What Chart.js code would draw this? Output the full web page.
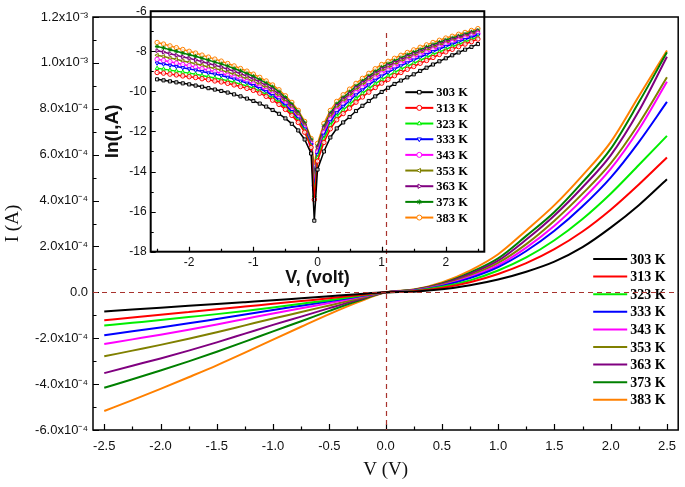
<!DOCTYPE html>
<html><head><meta charset="utf-8">
<script src="https://cdn.jsdelivr.net/npm/chart.js@4.4.1/dist/chart.umd.min.js"></script>
<style>
html,body{margin:0;padding:0;background:#fff;}
#wrap{position:relative;width:685px;height:487px;background:#fff;}
canvas{position:absolute;left:0;top:0;}
#inset{pointer-events:none;}
</style></head><body>
<div id="wrap"><canvas id="main" width="685" height="487"></canvas><canvas id="inset" width="685" height="487"></canvas></div>
<script>
// ---------- DATA ----------
const temps = ['303 K','313 K','323 K','333 K','343 K','353 K','363 K','373 K','383 K'];

// main chart: voltage (V) and current in units of 1e-4 A
const mainVolts = [-2.5,-2.25,-2.0,-1.75,-1.5,-1.25,-1.0,-0.75,-0.5,-0.25,0,0.25,0.5,0.75,1.0,1.25,1.5,1.75,2.0,2.25,2.5];
const I303 = [-0.83,-0.75,-0.67,-0.59,-0.51,-0.43,-0.35,-0.26,-0.17,-0.08,0,0.03,0.13,0.31,0.56,0.90,1.34,1.97,2.82,3.80,4.93];
const I313 = [-1.22,-1.10,-0.98,-0.86,-0.74,-0.62,-0.50,-0.38,-0.26,-0.13,0,0.05,0.19,0.44,0.80,1.27,1.88,2.65,3.60,4.70,5.88];
const I323 = [-1.45,-1.33,-1.21,-1.08,-0.95,-0.81,-0.66,-0.50,-0.34,-0.17,0,0.06,0.24,0.52,0.95,1.52,2.27,3.20,4.30,5.55,6.82];
const I333 = [-1.87,-1.70,-1.53,-1.35,-1.16,-0.97,-0.77,-0.58,-0.39,-0.19,0,0.07,0.28,0.62,1.10,1.80,2.68,3.75,5.00,6.55,8.30];
const I343 = [-2.25,-2.05,-1.85,-1.63,-1.40,-1.16,-0.92,-0.69,-0.47,-0.23,0,0.08,0.30,0.67,1.18,1.95,2.90,4.05,5.38,7.10,9.18];
const I353 = [-2.79,-2.54,-2.29,-2.02,-1.74,-1.44,-1.14,-0.86,-0.57,-0.28,0,0.09,0.33,0.73,1.28,2.10,3.12,4.30,5.62,7.35,9.37];
const I363 = [-3.52,-3.20,-2.88,-2.54,-2.18,-1.80,-1.42,-1.06,-0.69,-0.33,0,0.10,0.36,0.80,1.38,2.30,3.35,4.58,5.97,7.90,10.27];
const I373 = [-4.16,-3.79,-3.41,-3.01,-2.59,-2.15,-1.70,-1.26,-0.81,-0.38,0,0.11,0.39,0.86,1.48,2.46,3.50,4.80,6.25,8.28,10.46];
const I383 = [-5.17,-4.70,-4.21,-3.70,-3.18,-2.63,-2.06,-1.50,-0.95,-0.44,0,0.12,0.43,0.95,1.66,2.70,3.80,5.10,6.55,8.55,10.54];

// inset: ln(I) versus V
const insetVolts = [-2.5,-2.4,-2.3,-2.2,-2.1,-2.0,-1.9,-1.8,-1.7,-1.6,-1.5,-1.4,-1.3,-1.2,-1.1,-1.0,-0.9,-0.8,-0.7,-0.6,-0.5,-0.4,-0.3,-0.2,-0.1,-0.05,0,0.1,0.2,0.3,0.4,0.5,0.6,0.7,0.8,0.9,1.0,1.1,1.2,1.3,1.4,1.5,1.6,1.7,1.8,1.9,2.0,2.1,2.2,2.3,2.4,2.5];
const ln303 = [-9.40,-9.45,-9.50,-9.55,-9.60,-9.65,-9.71,-9.77,-9.84,-9.91,-9.98,-10.06,-10.15,-10.25,-10.36,-10.48,-10.61,-10.76,-10.93,-11.12,-11.35,-11.62,-11.95,-12.40,-13.10,-16.45,
  -13.90,-13.00,-12.30,-11.85,-11.55,-11.28,-10.98,-10.72,-10.48,-10.25,-10.03,-9.82,-9.63,-9.46,-9.30,-9.15,-8.98,-8.82,-8.66,-8.50,-8.35,-8.20,-8.06,-7.92,-7.78,-7.64];
const ln313 = [-9.06,-9.09,-9.14,-9.18,-9.23,-9.27,-9.31,-9.37,-9.42,-9.48,-9.53,-9.60,-9.68,-9.76,-9.85,-9.95,-10.09,-10.25,-10.44,-10.65,-10.90,-11.20,-11.55,-12.04,-12.80,-15.40,
  -13.48,-12.55,-11.87,-11.42,-11.11,-10.84,-10.54,-10.28,-10.04,-9.81,-9.59,-9.40,-9.22,-9.06,-8.90,-8.76,-8.60,-8.46,-8.31,-8.16,-8.03,-7.90,-7.77,-7.64,-7.52,-7.39];
const ln323 = [-8.85,-8.89,-8.94,-8.99,-9.04,-9.09,-9.14,-9.21,-9.27,-9.33,-9.39,-9.47,-9.55,-9.64,-9.73,-9.84,-9.99,-10.15,-10.33,-10.55,-10.81,-11.11,-11.47,-11.97,-12.74,-15.20,
  -13.32,-12.37,-11.69,-11.24,-10.93,-10.65,-10.36,-10.10,-9.86,-9.63,-9.41,-9.23,-9.05,-8.89,-8.74,-8.60,-8.45,-8.31,-8.16,-8.03,-7.90,-7.77,-7.65,-7.53,-7.41,-7.29];
const ln333 = [-8.59,-8.64,-8.70,-8.76,-8.82,-8.88,-8.94,-9.01,-9.08,-9.14,-9.21,-9.30,-9.39,-9.49,-9.59,-9.71,-9.86,-10.02,-10.21,-10.43,-10.70,-11.01,-11.38,-11.88,-12.67,-14.95,
  -13.15,-12.19,-11.52,-11.07,-10.75,-10.47,-10.18,-9.93,-9.68,-9.45,-9.24,-9.05,-8.89,-8.73,-8.58,-8.44,-8.30,-8.16,-8.02,-7.89,-7.76,-7.65,-7.53,-7.42,-7.30,-7.19];
const ln343 = [-8.40,-8.46,-8.52,-8.59,-8.66,-8.72,-8.79,-8.87,-8.94,-9.02,-9.10,-9.19,-9.29,-9.40,-9.50,-9.63,-9.78,-9.95,-10.14,-10.36,-10.63,-10.94,-11.32,-11.83,-12.62,-14.70,
  -13.03,-12.06,-11.40,-10.95,-10.63,-10.35,-10.06,-9.80,-9.56,-9.33,-9.11,-8.94,-8.77,-8.62,-8.47,-8.33,-8.19,-8.06,-7.92,-7.80,-7.67,-7.56,-7.45,-7.34,-7.23,-7.12];
const ln353 = [-8.20,-8.26,-8.33,-8.40,-8.48,-8.55,-8.62,-8.70,-8.78,-8.86,-8.94,-9.05,-9.15,-9.26,-9.37,-9.50,-9.65,-9.82,-10.02,-10.24,-10.52,-10.84,-11.22,-11.74,-12.55,-14.50,
  -12.93,-11.95,-11.29,-10.84,-10.51,-10.24,-9.94,-9.69,-9.44,-9.21,-9.00,-8.83,-8.67,-8.51,-8.37,-8.23,-8.09,-7.96,-7.83,-7.71,-7.59,-7.49,-7.38,-7.27,-7.16,-7.06];
const ln363 = [-7.97,-8.04,-8.12,-8.20,-8.28,-8.35,-8.43,-8.52,-8.61,-8.70,-8.79,-8.90,-9.00,-9.12,-9.24,-9.38,-9.53,-9.71,-9.90,-10.14,-10.42,-10.74,-11.13,-11.66,-12.48,-14.40,
  -12.82,-11.84,-11.18,-10.73,-10.40,-10.13,-9.83,-9.58,-9.33,-9.10,-8.89,-8.72,-8.57,-8.41,-8.27,-8.14,-8.00,-7.87,-7.75,-7.63,-7.51,-7.41,-7.30,-7.21,-7.10,-7.00];
const ln373 = [-7.76,-7.83,-7.92,-8.00,-8.09,-8.17,-8.25,-8.35,-8.44,-8.54,-8.63,-8.74,-8.86,-8.98,-9.11,-9.25,-9.41,-9.59,-9.78,-10.02,-10.31,-10.64,-11.03,-11.57,-12.41,-14.30,
  -12.73,-11.74,-11.08,-10.63,-10.31,-10.03,-9.74,-9.49,-9.24,-9.01,-8.80,-8.63,-8.48,-8.33,-8.18,-8.05,-7.92,-7.79,-7.67,-7.55,-7.44,-7.34,-7.24,-7.15,-7.04,-6.95];
const ln383 = [-7.56,-7.64,-7.73,-7.82,-7.91,-8.00,-8.09,-8.19,-8.29,-8.39,-8.49,-8.61,-8.73,-8.86,-8.99,-9.14,-9.30,-9.48,-9.68,-9.92,-10.22,-10.55,-10.95,-11.50,-12.35,-13.75,
  -12.60,-11.60,-10.95,-10.50,-10.17,-9.89,-9.60,-9.35,-9.10,-8.87,-8.66,-8.50,-8.35,-8.20,-8.06,-7.93,-7.80,-7.68,-7.56,-7.45,-7.34,-7.25,-7.15,-7.06,-6.96,-6.87];

// tick values and labels
const mainXTicks = [-2.5,-2.0,-1.5,-1.0,-0.5,0,0.5,1.0,1.5,2.0,2.5];
const mainXLabels = ['-2.5','-2.0','-1.5','-1.0','-0.5','0.0','0.5','1.0','1.5','2.0','2.5'];
const mainXMinor = [-2.25,-1.75,-1.25,-0.75,-0.25,0.25,0.75,1.25,1.75,2.25];
const mainYTicks = [-6e-4,-4e-4,-2e-4,0,2e-4,4e-4,6e-4,8e-4,1.0e-3,1.2e-3];
const mainYLabels = ['-6.0x10\u207B\u2074','-4.0x10\u207B\u2074','-2.0x10\u207B\u2074','0.0','2.0x10\u207B\u2074','4.0x10\u207B\u2074','6.0x10\u207B\u2074','8.0x10\u207B\u2074','1.0x10\u207B\u00B3','1.2x10\u207B\u00B3'];
const mainYMinor = [-5e-4,-3e-4,-1e-4,1e-4,3e-4,5e-4,7e-4,9e-4,1.1e-3];
const insetXTicks = [-2,-1,0,1,2];
const insetXLabels = ['-2','-1','0','1','2'];
const insetXMinor = [-2.5,-1.5,-0.5,0.5,1.5,2.5];
const insetYTicks = [-18,-16,-14,-12,-10,-8,-6];
const insetYLabels = ['-18','-16','-14','-12','-10','-8','-6'];
const insetYMinor = [-17,-15,-13,-11,-9,-7];

// ---------- STYLE ----------
const colors = ['#000000','#ff0000','#00ee00','#0000ff','#ff00ff','#808000','#800080','#008000','#ff8000'];
const markerStyles = ['rect','circle','triangle','triangle','circle','triangle','triangle','star','circle'];
const markerRot = [0,0,0,180,0,-90,90,0,0];
const dashColor = '#a8322d';

Chart.defaults.font.family = "'Liberation Sans', Arial, sans-serif";
Chart.defaults.color = '#111';

function drawInwardTicks(chart, xMaj, xMin, yMaj, yMin, majLen, minLen, lw) {
  const {ctx, chartArea: a, scales: {x, y}} = chart;
  ctx.save();
  ctx.strokeStyle = '#000'; ctx.lineWidth = lw;
  ctx.beginPath();
  xMaj.forEach(v => { const p = Math.round(x.getPixelForValue(v)) + 0.5; ctx.moveTo(p, a.bottom); ctx.lineTo(p, a.bottom - majLen); });
  xMin.forEach(v => { const p = Math.round(x.getPixelForValue(v)) + 0.5; ctx.moveTo(p, a.bottom); ctx.lineTo(p, a.bottom - minLen); });
  yMaj.forEach(v => { const p = Math.round(y.getPixelForValue(v)) + 0.5; ctx.moveTo(a.left, p); ctx.lineTo(a.left + majLen, p); });
  yMin.forEach(v => { const p = Math.round(y.getPixelForValue(v)) + 0.5; ctx.moveTo(a.left, p); ctx.lineTo(a.left + minLen, p); });
  ctx.stroke();
  ctx.restore();
}

const mainDeco = {
  id: 'mainDeco',
  afterDraw(chart) {
    const {ctx, chartArea: a, scales: {x, y}} = chart;
    ctx.save();
    ctx.strokeStyle = '#000'; ctx.lineWidth = 1.5;
    ctx.strokeRect(a.left, a.top, a.right - a.left, a.bottom - a.top);
    ctx.restore();
    drawInwardTicks(chart, mainXTicks, mainXMinor, mainYTicks, mainYMinor, 6, 3.5, 1.2);
    // legend
    ctx.save();
    const lx = a.right - 85, ly = a.top + 242, dy = 17.6;
    ctx.font = "bold 14px 'Liberation Serif', 'Times New Roman', serif";
    ctx.textBaseline = 'middle'; ctx.textAlign = 'left';
    chart.data.datasets.forEach((ds, i) => {
      const yy = ly + i * dy;
      ctx.strokeStyle = ds.borderColor; ctx.lineWidth = 2;
      ctx.beginPath(); ctx.moveTo(lx, yy); ctx.lineTo(lx + 34, yy); ctx.stroke();
      ctx.fillStyle = '#000';
      ctx.fillText(ds.label, lx + 37, yy + 1);
    });
    ctx.restore();
    // dashed reference lines
    ctx.save();
    ctx.strokeStyle = dashColor; ctx.lineWidth = 1.2; ctx.setLineDash([5, 4]);
    const y0 = Math.round(y.getPixelForValue(0)) + 0.5;
    ctx.beginPath(); ctx.moveTo(a.left, y0); ctx.lineTo(a.right, y0); ctx.stroke();
    const x0 = Math.round(x.getPixelForValue(0)) + 0.5;
    ctx.beginPath(); ctx.moveTo(x0, y.getPixelForValue(1.13e-3)); ctx.lineTo(x0, a.bottom); ctx.stroke();
    ctx.restore();
  }
};

const mainSeries = [I303, I313, I323, I333, I343, I353, I363, I373, I383];
new Chart(document.getElementById('main'), {
  type: 'line',
  data: {
    datasets: mainSeries.map((arr, k) => ({
      label: temps[k],
      data: mainVolts.map((v, i) => ({x: v, y: arr[i] * 1e-4})),
      borderColor: colors[k], borderWidth: 2, pointRadius: 0,
      cubicInterpolationMode: 'monotone', fill: false
    }))
  },
  options: {
    responsive: false, animation: false, devicePixelRatio: 1,
    layout: {padding: {top: 17, right: 1, left: 0, bottom: 0}},
    plugins: {legend: {display: false}, tooltip: {enabled: false}},
    scales: {
      x: {
        type: 'linear', min: -2.6, max: 2.6,
        grid: {display: false, drawTicks: false}, border: {display: false},
        afterBuildTicks: s => { s.ticks = mainXTicks.map(v => ({value: v})); },
        afterFit: s => { s.height = 57; },
        ticks: {padding: 9, font: {size: 13}, maxRotation: 0, autoSkip: false,
                callback: (v, i) => mainXLabels[i]},
        title: {display: true, text: 'V (V)', color: '#111',
                font: {family: "'Liberation Serif', 'Times New Roman', serif", size: 19},
                padding: {top: 0, bottom: 6}}
      },
      y: {
        type: 'linear', min: -6e-4, max: 1.2e-3,
        grid: {display: false, drawTicks: false}, border: {display: false},
        afterBuildTicks: s => { s.ticks = mainYTicks.map(v => ({value: v})); },
        afterFit: s => { s.width = 93; },
        ticks: {padding: 5, font: {size: 13}, autoSkip: false,
                callback: (v, i) => mainYLabels[i]},
        title: {display: true, text: 'I (A)', color: '#111',
                font: {family: "'Liberation Serif', 'Times New Roman', serif", size: 19},
                padding: {top: 2, bottom: 0}}
      }
    }
  },
  plugins: [mainDeco]
});

// ---------- INSET ----------
const insetDeco = {
  id: 'insetDeco',
  afterDraw(chart) {
    const {ctx, chartArea: a} = chart;
    ctx.save();
    ctx.strokeStyle = '#000'; ctx.lineWidth = 2;
    ctx.strokeRect(a.left, a.top, a.right - a.left, a.bottom - a.top);
    ctx.restore();
    drawInwardTicks(chart, insetXTicks, insetXMinor, insetYTicks, insetYMinor, 5, 3, 1.2);
    // legend
    ctx.save();
    const lx = a.right - 79, ly = a.top + 81, dy = 15.67;
    ctx.font = "bold 12.5px 'Liberation Serif', 'Times New Roman', serif";
    ctx.textBaseline = 'middle'; ctx.textAlign = 'left';
    chart.data.datasets.forEach((ds, i) => {
      const yy = ly + i * dy;
      ctx.strokeStyle = ds.borderColor; ctx.lineWidth = 2;
      ctx.beginPath(); ctx.moveTo(lx, yy); ctx.lineTo(lx + 28, yy); ctx.stroke();
      ctx.fillStyle = '#fff'; ctx.strokeStyle = ds.borderColor; ctx.lineWidth = 1;
      Chart.helpers.drawPoint(ctx, {pointStyle: markerStyles[i], rotation: markerRot[i], radius: 2.5, borderWidth: 1}, lx + 14, yy);
      ctx.fillStyle = '#000';
      ctx.fillText(ds.label, lx + 31, yy + 1);
    });
    ctx.restore();
  }
};

const insetSeries = [ln303, ln313, ln323, ln333, ln343, ln353, ln363, ln373, ln383];
new Chart(document.getElementById('inset'), {
  type: 'line',
  data: {
    datasets: insetSeries.map((arr, k) => ({
      label: temps[k],
      data: insetVolts.map((v, i) => ({x: v, y: arr[i]})),
      borderColor: colors[k], borderWidth: 1.5,
      pointStyle: markerStyles[k], pointRotation: markerRot[k],
      pointRadius: 2.2, pointBorderWidth: 1,
      pointBorderColor: colors[k], pointBackgroundColor: 'rgba(255,255,255,0.75)',
      tension: 0, fill: false
    }))
  },
  options: {
    responsive: false, animation: false, devicePixelRatio: 1,
    layout: {padding: {top: 7.3, right: 200.7, left: 90.7, bottom: 195.3}},
    plugins: {legend: {display: false}, tooltip: {enabled: false}},
    scales: {
      x: {
        type: 'linear', min: -2.6, max: 2.6,
        grid: {display: false, drawTicks: false}, border: {display: false},
        afterBuildTicks: s => { s.ticks = insetXTicks.map(v => ({value: v})); },
        afterFit: s => { s.height = 40; },
        ticks: {padding: 4, font: {size: 12}, maxRotation: 0, autoSkip: false,
                callback: (v, i) => insetXLabels[i]},
        title: {display: true, text: 'V, (volt)', color: '#111',
                font: {size: 18, weight: 'bold'}, padding: {top: 0, bottom: 3}}
      },
      y: {
        type: 'linear', min: -18, max: -6,
        grid: {display: false, drawTicks: false}, border: {display: false},
        afterBuildTicks: s => { s.ticks = insetYTicks.map(v => ({value: v})); },
        afterFit: s => { s.width = 60; },
        ticks: {padding: 4, font: {size: 12}, autoSkip: false,
                callback: (v, i) => insetYLabels[i]},
        title: {display: true, text: 'ln(I,A)', color: '#111',
                font: {size: 19, weight: 'bold'}, padding: {top: 11, bottom: 0}}
      }
    }
  },
  plugins: [insetDeco]
});
</script>
</body></html>
